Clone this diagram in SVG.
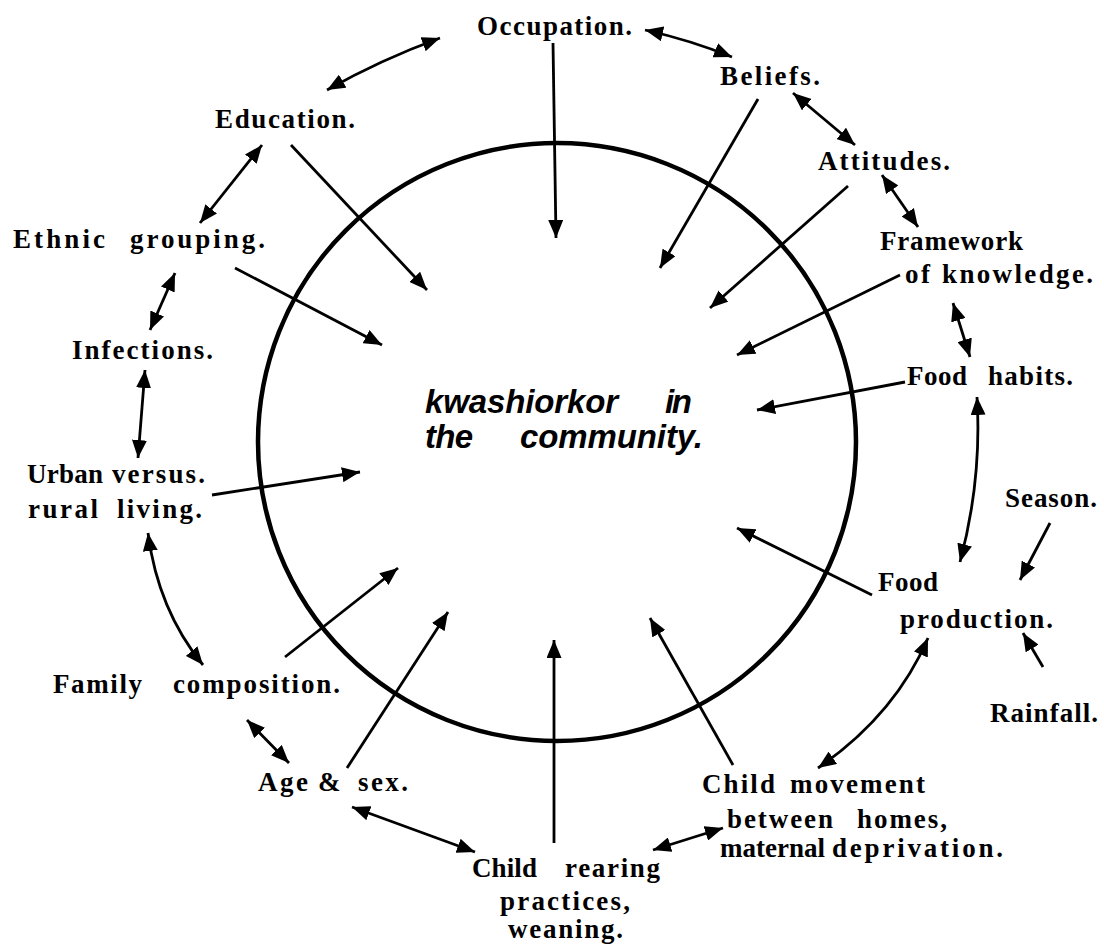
<svg xmlns="http://www.w3.org/2000/svg" width="1104" height="948" viewBox="0 0 1104 948">
<style>
.lbl{font-family:"Liberation Serif","Times New Roman",serif;font-weight:bold;font-size:27px;fill:#000}
.ctr{font-family:"Liberation Sans",Arial,sans-serif;font-weight:bold;font-style:italic;font-size:33px;fill:#000}
.c{fill:none;stroke:#000;stroke-width:2.8}
.one{marker-end:url(#ah)}
.two{marker-start:url(#ah);marker-end:url(#ah)}
</style>
<defs>
<marker id="ah" markerUnits="userSpaceOnUse" markerWidth="19" markerHeight="15" refX="18" refY="7.5" orient="auto-start-reverse">
<path d="M0,0 L18,7.5 L0,15 z" fill="#000"/>
</marker>
</defs>
<rect width="1104" height="948" fill="#fff"/>
<g id="circle"><circle cx="557" cy="442" r="299" fill="none" stroke="#000" stroke-width="4.5"/></g>
<g id="connectors">
<path class="c two" d="M327,90 Q380,60 440,38"/>
<path class="c two" d="M645,30 Q690,40 732,57"/>
<path class="c two" d="M262,145 L200,223"/>
<path class="c one" d="M291,145 L427,290"/>
<path class="c one" d="M553,43 L556,238"/>
<path class="c one" d="M758,99 L660,268"/>
<path class="c two" d="M793,93 L855,145"/>
<path class="c one" d="M848,186 L710,308"/>
<path class="c two" d="M882,175 L918,227"/>
<path class="c one" d="M900,275 L737,355"/>
<path class="c two" d="M953,303 L970,357"/>
<path class="c one" d="M905,382 L757,410"/>
<path class="c two" d="M977,397 Q982,480 960,562"/>
<path class="c one" d="M1050,523 L1020,580"/>
<path class="c one" d="M1043,667 L1023,633"/>
<path class="c one" d="M872,595 L737,528"/>
<path class="c two" d="M928,638 Q895,715 818,768"/>
<path class="c one" d="M733,765 L650,618"/>
<path class="c two" d="M723,828 L653,850"/>
<path class="c one" d="M554,843 L554,640"/>
<path class="c two" d="M352,807 L475,852"/>
<path class="c one" d="M347,768 L448,612"/>
<path class="c two" d="M247,720 L289,763"/>
<path class="c one" d="M285,657 L398,568"/>
<path class="c two" d="M148,533 Q158,610 203,665"/>
<path class="c one" d="M212,495 L360,472"/>
<path class="c two" d="M145,370 L138,458"/>
<path class="c two" d="M175,273 L150,330"/>
<path class="c one" d="M235,268 L382,345"/>
</g>
<g id="center">
<text class="ctr" x="425" y="413" textLength="193" lengthAdjust="spacing">kwashiorkor</text>
<text class="ctr" x="665" y="413" textLength="27" lengthAdjust="spacing">in</text>
<text class="ctr" x="425" y="448" textLength="48" lengthAdjust="spacing">the</text>
<text class="ctr" x="520" y="448" textLength="183" lengthAdjust="spacing">community.</text>
</g>
<g id="occupation"><text class="lbl" x="477" y="35" textLength="155" lengthAdjust="spacing">Occupation.</text></g>
<g id="beliefs"><text class="lbl" x="720" y="85" textLength="100" lengthAdjust="spacing">Beliefs.</text></g>
<g id="attitudes"><text class="lbl" x="818" y="170" textLength="132" lengthAdjust="spacing">Attitudes.</text></g>
<g id="framework">
<text class="lbl" x="880" y="250" textLength="143" lengthAdjust="spacing">Framework</text>
<text class="lbl" x="905" y="283" textLength="25" lengthAdjust="spacing">of</text>
<text class="lbl" x="942" y="283" textLength="151" lengthAdjust="spacing">knowledge.</text>
</g>
<g id="food-habits">
<text class="lbl" x="907" y="385" textLength="60" lengthAdjust="spacing">Food</text>
<text class="lbl" x="988" y="385" textLength="85" lengthAdjust="spacing">habits.</text>
</g>
<g id="season"><text class="lbl" x="1005" y="507" textLength="92" lengthAdjust="spacing">Season.</text></g>
<g id="food-production">
<text class="lbl" x="878" y="591" textLength="60" lengthAdjust="spacing">Food</text>
<text class="lbl" x="900" y="628" textLength="153" lengthAdjust="spacing">production.</text>
</g>
<g id="rainfall"><text class="lbl" x="990" y="722" textLength="108" lengthAdjust="spacing">Rainfall.</text></g>
<g id="child-movement">
<text class="lbl" x="702" y="793" textLength="73" lengthAdjust="spacing">Child</text>
<text class="lbl" x="790" y="793" textLength="135" lengthAdjust="spacing">movement</text>
<text class="lbl" x="727" y="828" textLength="106" lengthAdjust="spacing">between</text>
<text class="lbl" x="857" y="828" textLength="90" lengthAdjust="spacing">homes,</text>
<text class="lbl" x="720" y="857" textLength="105" lengthAdjust="spacing">maternal</text>
<text class="lbl" x="832" y="857" textLength="171" lengthAdjust="spacing">deprivation.</text>
</g>
<g id="child-rearing">
<text class="lbl" x="472" y="877" textLength="65" lengthAdjust="spacing">Child</text>
<text class="lbl" x="565" y="877" textLength="95" lengthAdjust="spacing">rearing</text>
<text class="lbl" x="500" y="910" textLength="130" lengthAdjust="spacing">practices,</text>
<text class="lbl" x="508" y="938" textLength="115" lengthAdjust="spacing">weaning.</text>
</g>
<g id="age-sex">
<text class="lbl" x="258" y="791" textLength="50" lengthAdjust="spacing">Age</text>
<text class="lbl" x="318" y="791" textLength="30" lengthAdjust="spacing">&amp;</text>
<text class="lbl" x="358" y="791" textLength="50" lengthAdjust="spacing">sex.</text>
</g>
<g id="family">
<text class="lbl" x="53" y="693" textLength="89" lengthAdjust="spacing">Family</text>
<text class="lbl" x="173" y="693" textLength="167" lengthAdjust="spacing">composition.</text>
</g>
<g id="urban">
<text class="lbl" x="27" y="483" textLength="76" lengthAdjust="spacing">Urban</text>
<text class="lbl" x="112" y="483" textLength="93" lengthAdjust="spacing">versus.</text>
<text class="lbl" x="28" y="518" textLength="70" lengthAdjust="spacing">rural</text>
<text class="lbl" x="117" y="518" textLength="85" lengthAdjust="spacing">living.</text>
</g>
<g id="infections"><text class="lbl" x="72" y="359" textLength="141" lengthAdjust="spacing">Infections.</text></g>
<g id="ethnic">
<text class="lbl" x="13" y="248" textLength="92" lengthAdjust="spacing">Ethnic</text>
<text class="lbl" x="130" y="248" textLength="135" lengthAdjust="spacing">grouping.</text>
</g>
<g id="education"><text class="lbl" x="215" y="128" textLength="140" lengthAdjust="spacing">Education.</text></g>
</svg>
